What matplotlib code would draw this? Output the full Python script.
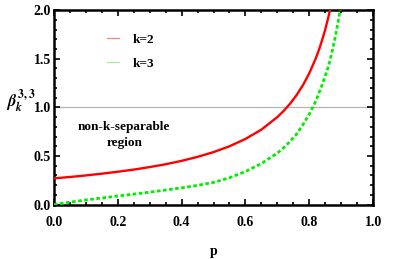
import numpy as np
import matplotlib
matplotlib.use("Agg")
import matplotlib.pyplot as plt
from matplotlib.lines import Line2D
from matplotlib.ticker import MultipleLocator

plt.rcParams['font.family'] = ['Liberation Serif', 'DejaVu Serif']
plt.rcParams['font.weight'] = 'bold'
plt.rcParams['mathtext.fontset'] = 'stix'

# values
p_k2 = [0.00, 0.05, 0.10, 0.15, 0.20, 0.25, 0.30, 0.35, 0.40, 0.45, 0.50, 0.55,
        0.60, 0.65, 0.70, 0.72, 0.74, 0.76, 0.78, 0.80, 0.82, 0.83, 0.84, 0.85,
        0.86, 0.87]
beta_k2 = [0.270, 0.284, 0.300, 0.318, 0.338, 0.360, 0.386, 0.415, 0.450, 0.491,
           0.540, 0.600, 0.675, 0.771, 0.900, 0.964, 1.038, 1.125, 1.227, 1.350,
           1.500, 1.588, 1.688, 1.800, 1.929, 2.077]

p_k3 = [0.00, 0.05, 0.10, 0.15, 0.20, 0.25, 0.30, 0.35, 0.40, 0.45, 0.50, 0.55,
        0.60, 0.65, 0.70, 0.72, 0.74, 0.76, 0.78, 0.80, 0.82, 0.84, 0.86, 0.87,
        0.88, 0.89, 0.90]
beta_k3 = [0.000, 0.025, 0.048, 0.068, 0.088, 0.108, 0.128, 0.150, 0.172, 0.198,
           0.228, 0.276, 0.340, 0.422, 0.530, 0.585, 0.650, 0.725, 0.820, 0.930,
           1.060, 1.230, 1.420, 1.550, 1.700, 1.870, 2.070]

threshold = 1.0
legend_labels = ['k=2', 'k=3']

fig = plt.figure(figsize=(4.15, 2.59), dpi=100)
ax = fig.add_axes([0.130, 0.210, 0.769, 0.751])

ax.axhline(threshold, color='#b4b4b4', lw=0.9, zorder=1)
ax.plot(p_k2, beta_k2, color='#ff0000', lw=1.7, zorder=3)
ax.plot(p_k3, beta_k3, color='#00ee00', lw=2.0, linestyle=(0, (1.3, 0.9)), zorder=3)

ax.set_xlim(0, 1)
ax.set_ylim(0, 2)
ax.xaxis.set_major_locator(MultipleLocator(0.2))
ax.xaxis.set_minor_locator(MultipleLocator(0.05))
ax.yaxis.set_major_locator(MultipleLocator(0.5))
ax.yaxis.set_minor_locator(MultipleLocator(0.1))
ax.tick_params(which='both', direction='in', top=True, right=True,
               labelsize=10, width=1.2)
ax.tick_params(axis='x', pad=8)
ax.tick_params(axis='y', pad=2)
ax.tick_params(which='major', length=4)
ax.tick_params(which='minor', length=2)
for s in ax.spines.values():
    s.set_linewidth(1.8)
for lab in ax.get_xticklabels() + ax.get_yticklabels():
    lab.set_fontweight('bold')

ax.set_xlabel('p', fontsize=10, fontweight='bold')
ax.xaxis.set_label_coords(0.5, -0.21)
ax.set_ylabel(r'$\beta_k^{3,3}$', fontsize=12, rotation=0)
ax.yaxis.set_label_coords(-0.105, 0.46)

ax.text(0.22, 0.357, 'non-k-separable\nregion', transform=ax.transAxes,
        ha='center', va='center', fontsize=9.5, fontweight='bold', linespacing=1.5)

handles = [Line2D([], [], color='#ff8080', lw=0.9),
           Line2D([], [], color='#a0f0a0', lw=0.9)]
ax.legend(handles, legend_labels, loc='upper left', bbox_to_anchor=(0.13, 0.94),
          frameon=False, handlelength=0.9, handletextpad=1.0, labelspacing=0.9,
          prop={'weight': 'bold', 'size': 9.5})

fig.savefig('out.png', dpi=100)
